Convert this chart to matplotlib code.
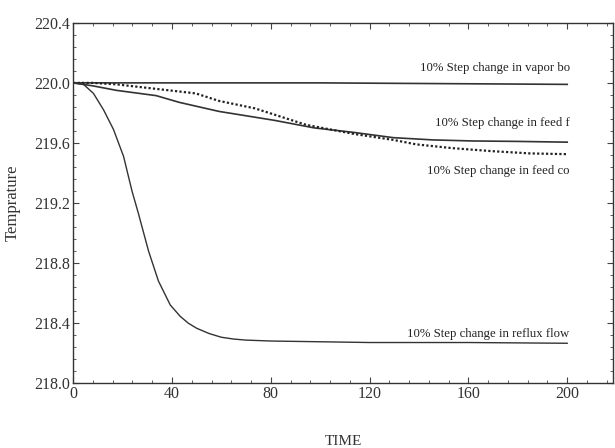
import numpy as np
import matplotlib.pyplot as plt
from matplotlib.ticker import MultipleLocator

t_vapor = [0, 50, 100, 150, 200]
temp_vapor = [220.0, 220.0, 220.0, 219.995, 219.99]

t_feed_flow = [0, 8, 17.6, 33.6, 43, 59, 81.6, 97.6, 113.6, 129.6, 145.6, 161.6, 180, 200]
temp_feed_flow = [220.0, 219.98, 219.95, 219.915, 219.87, 219.81, 219.75, 219.70,
                  219.67, 219.635, 219.62, 219.613, 219.61, 219.605]

t_feed_comp = [0, 8, 17.6, 33.6, 49.6, 59, 73.6, 94.4, 113.6, 129.6, 139, 153.6, 169.6, 185, 200]
temp_feed_comp = [220.0, 220.0, 219.99, 219.96, 219.93, 219.88, 219.83, 219.72,
                  219.66, 219.62, 219.59, 219.565, 219.545, 219.53, 219.525]

t_reflux = [0, 4.2, 8.2, 12.3, 16.3, 20.4, 23.8, 26.4, 30.5, 34.5, 39.3, 43.3, 46.5,
            50, 55, 60, 65, 70, 80, 100, 120, 160, 200]
temp_reflux = [220.0, 219.99, 219.93, 219.82, 219.69, 219.51, 219.28, 219.13, 218.88,
               218.68, 218.52, 218.445, 218.40, 218.365, 218.33, 218.305, 218.293,
               218.286, 218.28, 218.275, 218.27, 218.27, 218.265]

labels = ['10% Step change in vapor bo', '10% Step change in feed f',
          '10% Step change in feed co', '10% Step change in reflux flow']
label_y = [220.10, 219.736, 219.41, 218.33]

plt.rcParams['font.family'] = ['Liberation Serif', 'DejaVu Serif']

fig = plt.figure(figsize=(6.15, 4.48), dpi=100)
ax = fig.add_axes([0.119, 0.145, 0.878, 0.804])

line_color = '#333333'
ax.plot(t_vapor, temp_vapor, color=line_color, lw=1.2)
ax.plot(t_feed_flow, temp_feed_flow, color=line_color, lw=1.2)
ax.plot(t_feed_comp, temp_feed_comp, color='#222222', lw=1.6, ls=(0, (1, 1)))
ax.plot(t_reflux, temp_reflux, color=line_color, lw=1.0)

for txt, yv in zip(labels, label_y):
    ax.text(201, yv, txt, ha='right', va='center', fontsize=9.2,
            color='#222222', fontstretch='condensed')

ax.set_xlim(0, 218.6)
ax.set_ylim(218.0, 220.4)
ax.set_xticks([0, 40, 80, 120, 160, 200])
ax.set_yticks([218.0, 218.4, 218.8, 219.2, 219.6, 220.0, 220.4])
ax.set_yticklabels(['218.0', '218.4', '218.8', '219.2', '219.6', '220.0', '220.4'])
ax.xaxis.set_minor_locator(MultipleLocator(8))
ax.yaxis.set_minor_locator(MultipleLocator(0.08))
ax.tick_params(which='both', direction='in', top=True, right=True,
               colors='#444444', labelcolor='#333333', labelsize=11.5)
ax.tick_params(which='major', length=4, pad=2)
ax.tick_params(which='minor', length=2.5)
for s in ax.spines.values():
    s.set_color('#333333')
    s.set_linewidth(1.0)

ax.set_xlabel('TIME', fontsize=11, color='#333333', labelpad=24)
ax.set_ylabel('Temprature', fontsize=12, color='#333333', labelpad=10)

plt.savefig('out.png', dpi=100)
